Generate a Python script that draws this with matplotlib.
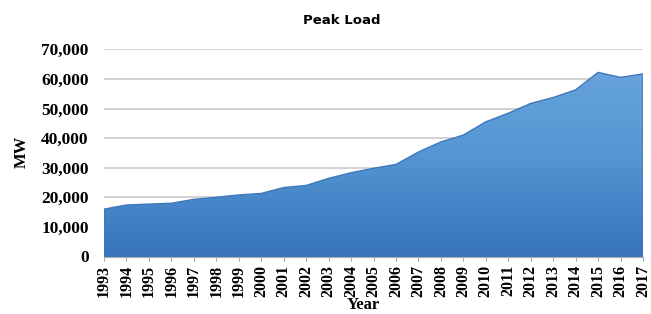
import numpy as np
import matplotlib
matplotlib.use("Agg")
import matplotlib.pyplot as plt
from matplotlib.colors import LinearSegmentedColormap

years = list(range(1993, 2018))
peak_load = [16000, 17400, 17700, 18000, 19300, 20000, 20800, 21300, 23300, 24000,
             26400, 28300, 29800, 31100, 35300, 38700, 41000, 45500, 48400, 51700,
             53700, 56300, 62200, 60500, 61700]
yticks = [0, 10000, 20000, 30000, 40000, 50000, 60000, 70000]
ytick_labels = ["0", "10,000", "20,000", "30,000", "40,000", "50,000", "60,000", "70,000"]

fig = plt.figure(figsize=(6.51, 3.14), dpi=100)
ax = fig.add_axes([104/651, 1-256.5/314, (643-104)/651, (256.5-49.3)/314])

ax.set_xlim(1993, 2017)
ax.set_ylim(0, 70000)

for y in yticks[1:]:
    ax.axhline(y, color="#c6c6c6", lw=1.1, zorder=1)

poly = ax.fill_between(years, 0, peak_load, facecolor="none", edgecolor="#3e78bb", lw=1.0, zorder=3)
cmap = LinearSegmentedColormap.from_list("g", ["#3873bb", "#5597d4", "#6ca6de"])
grad = np.linspace(0, 1, 256).reshape(-1, 1)
im = ax.imshow(grad, extent=[1993, 2017, 0, 70000], origin="lower", aspect="auto", cmap=cmap, zorder=2)
path = poly.get_paths()[0]
im.set_clip_path(path, transform=ax.transData)

ax.set_yticks(yticks)
ax.set_yticklabels(ytick_labels, fontfamily="Liberation Serif", fontweight="bold", fontsize=12.5)
ax.set_xticks(years)
ax.set_xticklabels([str(y) for y in years], rotation=90, fontfamily="Liberation Serif",
                   fontweight="bold", fontsize=11.5)
ax.tick_params(axis="y", length=0, pad=11)
ax.tick_params(axis="x", length=3, color="#aaaaaa", pad=3)

for s in ["top", "right", "left"]:
    ax.spines[s].set_visible(False)
ax.spines["bottom"].set_color("#aaaaaa")

fig.text(342/651, 1-20/314, "Peak Load", ha="center", va="center", fontfamily="DejaVu Sans",
         fontweight="bold", fontsize=9.5)
fig.text(22/651, 1-152/314, "MW", ha="center", va="center", rotation=90, fontfamily="Liberation Serif",
         fontweight="bold", fontsize=12)
fig.text(363/651, 1-305/314, "Year", ha="center", va="center", fontfamily="Liberation Serif",
         fontweight="bold", fontsize=12)

fig.savefig("out.png", dpi=100)
